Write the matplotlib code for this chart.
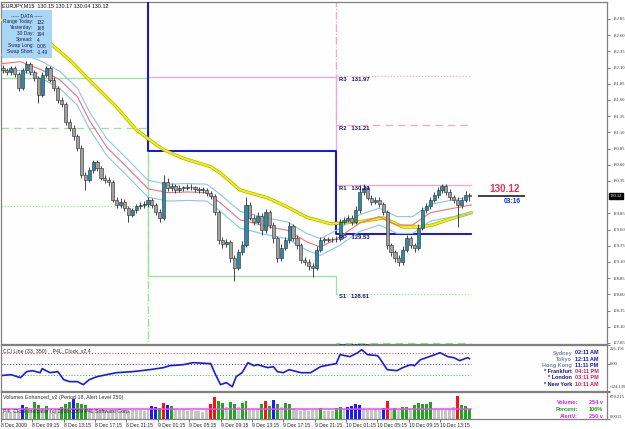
import matplotlib
matplotlib.use("Agg")
import matplotlib.pyplot as plt
import matplotlib.transforms as mtransforms
from matplotlib.patches import Rectangle

plt.rcParams['font.family'] = ['Liberation Sans', 'DejaVu Sans']

# ---------------- data ----------------
title_text = "EURJPY,M15  130.15 130.17 130.04 130.12"
first_open = 132.10
closes = [
    132.06, 132.03, 132.09, 132.00, 131.78, 132.06, 132.16, 132.03, 131.94, 131.68,
    131.99, 132.09, 131.91, 131.78, 131.60, 131.54, 131.26, 131.17, 131.04, 130.86,
    130.44, 130.37, 130.52, 130.64, 130.55, 130.40, 130.37, 130.33, 130.06, 129.98,
    130.03, 129.93, 129.83, 129.90, 129.96, 129.98, 129.99, 130.06, 129.98, 129.87,
    129.78, 130.33, 130.24, 130.27, 130.21, 130.24, 130.24, 130.26, 130.25, 130.23,
    130.21, 130.21, 130.16, 130.12, 129.87, 129.44, 129.38, 129.41, 129.16, 129.01,
    129.25, 129.36, 129.98, 129.78, 129.72, 129.81, 129.59, 129.87, 129.67, 129.47,
    129.16, 129.32, 129.44, 129.66, 129.47, 129.36, 129.13, 129.10, 129.04, 129.01,
    129.29, 129.44, 129.44, 129.46, 129.45, 129.46, 129.72, 129.75, 129.78, 129.72,
    129.90, 130.18, 130.24, 130.09, 130.03, 130.06, 129.99, 129.87, 129.36, 129.25,
    129.16, 129.10, 129.29, 129.47, 129.36, 129.32, 129.63, 129.90, 129.96, 130.06,
    130.13, 130.21, 130.27, 130.18, 130.10, 130.06, 129.98, 130.06, 130.13, 130.12]
highs = [
    132.14, 132.10, 132.13, 132.12, 132.03, 132.10, 132.20, 132.19, 132.07, 131.97,
    132.03, 132.13, 132.12, 131.95, 131.82, 131.64, 131.57, 131.30, 131.21, 131.08,
    130.90, 130.49, 130.56, 130.68, 130.67, 130.58, 130.44, 130.41, 130.36, 130.10,
    130.08, 130.07, 129.97, 129.94, 130.00, 130.03, 130.04, 130.10, 130.09, 130.01,
    129.91, 130.44, 130.40, 130.32, 130.31, 130.29, 130.28, 130.31, 130.30, 130.28,
    130.26, 130.25, 130.24, 130.19, 130.15, 129.90, 129.49, 129.46, 129.44, 129.20,
    129.30, 129.42, 130.10, 130.02, 129.83, 129.87, 129.85, 129.92, 129.90, 129.71,
    129.50, 129.37, 129.49, 129.71, 129.69, 129.51, 129.40, 129.17, 129.14, 129.08,
    129.34, 129.48, 129.48, 129.49, 129.49, 129.50, 129.76, 129.80, 129.83, 129.82,
    129.96, 130.29, 130.30, 130.28, 130.13, 130.10, 130.10, 130.02, 129.90, 129.40,
    129.29, 129.20, 129.34, 129.52, 129.50, 129.40, 129.68, 129.95, 130.01, 130.11,
    130.18, 130.26, 130.31, 130.30, 130.22, 130.14, 130.10, 130.10, 130.20, 130.17]
lows = [
    132.01, 131.98, 131.99, 131.95, 131.74, 131.76, 132.02, 131.99, 131.89, 131.55,
    131.64, 131.95, 131.87, 131.74, 131.56, 131.49, 131.22, 131.12, 130.98, 130.82,
    130.40, 130.21, 130.33, 130.48, 130.50, 130.36, 130.32, 130.28, 130.02, 129.93,
    129.94, 129.88, 129.72, 129.79, 129.86, 129.92, 129.94, 129.95, 129.93, 129.82,
    129.72, 129.75, 130.20, 130.19, 130.16, 130.18, 130.19, 130.21, 130.21, 130.18,
    130.17, 130.16, 130.12, 130.07, 129.82, 129.38, 129.32, 129.33, 129.10, 128.80,
    128.97, 129.21, 129.33, 129.74, 129.67, 129.68, 129.52, 129.55, 129.62, 129.40,
    129.10, 129.12, 129.28, 129.40, 129.42, 129.30, 129.08, 129.05, 128.98, 128.87,
    128.97, 129.25, 129.40, 129.41, 129.41, 129.41, 129.43, 129.68, 129.71, 129.67,
    129.68, 129.86, 130.14, 130.05, 129.98, 129.99, 129.95, 129.82, 129.30, 129.19,
    129.10, 129.04, 129.06, 129.25, 129.31, 129.26, 129.28, 129.59, 129.86, 129.92,
    130.02, 130.09, 130.17, 130.13, 130.05, 130.01, 129.64, 129.93, 130.02, 130.04]

# slow moving average (yellow) and middle MA with envelopes
ma_slow_bars = [0, 26, 35, 45, 59, 69, 76, 83, 93, 107, 112, 122, 136, 146, 156,
                168, 183, 195, 205, 214, 220, 231, 240]
ma_slow = [132.84, 132.45, 132.22, 131.91, 131.49, 131.14, 130.98, 130.83, 130.70,
           130.57, 130.47, 130.21, 130.09, 129.95, 129.79, 129.69, 129.72, 129.78,
           129.64, 129.64, 129.67, 129.78, 129.86]
ma_mid_bars = [0, 10, 21, 30, 39, 45, 54, 64, 75, 85, 95, 105, 112, 122, 129, 137,
               146, 156, 163, 173, 183, 193, 202, 210, 219, 231, 240]
ma_mid = [132.16, 132.19, 132.06, 131.91, 131.65, 131.29, 130.87, 130.57, 130.23,
          130.17, 130.18, 130.17, 130.01, 129.75, 129.70, 129.64, 129.59, 129.41,
          129.33, 129.49, 129.70, 129.80, 129.67, 129.67, 129.86, 129.93, 129.98]
envelope_pct = 0.1

# daily pivots (days start at these bars)
pivot_day_start = [0, 75, 171]
last_bar = 240
pivot_pp = [133.15, 130.81, 129.53]
pivot_r1 = [133.92, 131.96, 130.29]
pivot_r2 = [135.13, 133.89, 131.21]
pivot_r3 = [135.90, 135.04, 131.97]
pivot_s1 = [131.94, 128.88, 128.61]
pivot_s2 = [131.17, 127.73, 127.85]
pivot_s3 = [129.96, 125.80, 126.93]

price_ticks = [132.85, 132.60, 132.35, 132.10, 131.85, 131.60, 131.35, 131.10,
               130.85, 130.60, 130.35, 129.85, 129.60, 129.35, 129.10,
               128.85, 128.60, 128.35, 128.10, 127.85]
last_price = 130.12
time_left = "03:16"

data_labels = ["Range Today:", "Yesterday:", "30 Day:", "Spread:", "Swap Long:", "Swap Short:"]
data_values = ["132", "168", "194", "4", "0.08", "-1.49"]

# CCI
cci_bars = [0, 5, 10, 13, 16, 20, 21, 25, 29, 32, 35, 39, 42, 45, 49, 54, 59, 67, 76, 83,
            86, 93, 98, 107, 109, 112, 115, 118, 120, 123, 126, 129, 131, 136, 139, 141,
            144, 147, 153, 158, 163, 168, 171, 173, 178, 182, 184, 187, 192, 193, 197,
            202, 205, 209, 211, 214, 217, 220, 224, 228, 231, 234, 238, 239]
cci_vals = [-142, -130, -166, -95, -83, -107, -59, -107, -95, -190,
            -213, -213, -249, -190, -154, -130, -107, -95, -71, -47,
            -24, -12, 12, 0, -107, -249, -225, -273, -154, -107,
            12, -24, -12, -47, -36, -95, -107, -71, -107, -107,
            -36, -12, 0, 107, 83, 130, 166, 107, 95, 71,
            -71, -83, -47, -12, -24, 47, 71, 95, 130, 83,
            71, 36, 71, 59]
cci_levels = [130, 0, -140]
cci_max, cci_min = 221.191, -324.139

clock_cities = ["Sydney", "Tokyo", "Hong Kong", "* Frankfurt", "* London", "* New York"]
clock_times = ["02:11 AM", "12:11 AM", "11:11 PM", "04:11 PM", "03:11 PM", "10:11 AM"]

# volumes (per 30-min candle) and colour class
volumes = [
    170, 180, 150, 200, 190, 350, 300, 250, 420, 350,
    280, 320, 230, 210, 250, 300, 380, 420, 500, 400,
    380, 350, 250, 240, 220, 260, 230, 210, 220, 240,
    200, 230, 210, 220, 220, 230, 210, 220, 320, 300,
    280, 400, 350, 330, 240, 220, 250, 200, 230, 190,
    200, 180, 220, 380, 550, 450, 400, 300, 420, 380,
    300, 400, 450, 250, 240, 260, 380, 450, 330, 480,
    380, 300, 400, 380, 280, 230, 210, 250, 200, 220,
    230, 270, 200, 210, 190, 270, 290, 220, 300, 330,
    370, 350, 250, 230, 220, 240, 220, 270, 440, 250,
    280, 220, 300, 310, 240, 350, 400, 380, 360, 420,
    260, 250, 240, 230, 250, 300, 560, 350, 320, 254]
vol_class = [
    'n', 'n', 'n', 'n', 'n', 'b', 'g', 'n', 'g', 'g',
    'n', 'g', 'n', 'n', 'n', 'g', 'g', 'g', 'b', 'g',
    'g', 'g', 'n', 'n', 'n', 'n', 'n', 'n', 'n', 'n',
    'n', 'n', 'n', 'n', 'n', 'n', 'n', 'n', 'b', 'b',
    'g', 'r', 'b', 'g', 'n', 'n', 'n', 'n', 'n', 'n',
    'n', 'n', 'n', 'r', 'r', 'g', 'g', 'n', 'g', 'g',
    'n', 'g', 'g', 'n', 'n', 'n', 'g', 'r', 'g', 'b',
    'g', 'n', 'g', 'g', 'n', 'n', 'n', 'n', 'n', 'n',
    'n', 'g', 'n', 'n', 'n', 'g', 'g', 'n', 'b', 'b',
    'b', 'b', 'n', 'n', 'n', 'n', 'n', 'b', 'r', 'n',
    'g', 'n', 'g', 'g', 'n', 'g', 'g', 'g', 'g', 'g',
    'n', 'n', 'n', 'n', 'n', 'n', 'r', 'g', 'g', 'g']
alert_level = 250
vol_max, vol_min_label = 670.215, "0.0015"
vol_info_labels = ["Volume:", "Percent:", "AlertV:"]
vol_info_values = ["254 v", "106%", "250 v"]

xtick_bars = [0, 16, 32, 48, 64, 80, 96, 112, 128, 144, 160, 176, 192, 208, 224]
xtick_labels = ["8 Dec 2009", "8 Dec 09:15", "8 Dec 13:15", "8 Dec 17:15", "8 Dec 21:15",
                "9 Dec 01:15", "9 Dec 05:15", "9 Dec 09:15", "9 Dec 13:15", "9 Dec 17:15",
                "9 Dec 21:15", "10 Dec 01:15", "10 Dec 05:15", "10 Dec 09:15", "10 Dec 13:15"]

# ---------------- layout ----------------
W, H = 625, 429
fig = plt.figure(figsize=(W / 100, H / 100), dpi=100)
fig.patch.set_facecolor('white')


def rect(l, t, r, b):
    return [l / W, 1 - b / H, (r - l) / W, (b - t) / H]


def ftext(x, y, s, **kw):
    kw.setdefault('va', 'center')
    return fig.text(x / W, 1 - y / H, s, **kw)


BG = '#fdfefd'
SPINE = '#808080'
XMAX = (607 - 1) / 1.96
TICKFS = 3.3

ax = fig.add_axes(rect(1, 2, 607, 344))
axc = fig.add_axes(rect(1, 345, 607, 391), sharex=ax)
axv = fig.add_axes(rect(1, 392, 607, 419), sharex=ax)
for a in (ax, axc, axv):
    a.set_facecolor(BG)
    for s in a.spines.values():
        s.set_color(SPINE)
        s.set_linewidth(0.9)
    a.yaxis.tick_right()
    a.tick_params(axis='y', length=2.5, width=0.6, color='#606060', pad=1.2,
                  labelsize=TICKFS, labelcolor='#303030')
ax.set_xlim(0, XMAX)
ax.set_ylim(127.834, 133.112)

# ---------------- main chart ----------------
n = len(closes)
xs = [2 * j + 1 for j in range(n)]
opens = [first_open] + closes[:-1]

# pivot lines
pk = pivot_day_start + [last_bar]
pink = '#f4a6cc'
green = '#96e496'


def step_line(levels, **kw):
    ax.step(pk, levels + [levels[-1]], where='post', **kw)


step_line(pivot_r3, color=pink, lw=0.9, ls=(0, (1, 1.5)), zorder=2)
step_line(pivot_r2, color=pink, lw=0.9, ls=(0, (6, 4)), zorder=2)
step_line(pivot_r1, color=pink, lw=0.9, zorder=2)
step_line(pivot_s3, color=green, lw=0.9, ls=(0, (1, 1.5)), zorder=2)
step_line(pivot_s2, color=green, lw=0.9, ls=(0, (6, 4)), zorder=2)
ax.step(pk[:3], pivot_s1[:2] + [pivot_s1[2]], where='post', color=green, lw=0.9, zorder=2)
ax.plot([pk[2], pk[3]], [pivot_s1[2], pivot_s1[2]], color=green, lw=0.9,
        ls=(0, (1, 1.5)), zorder=2)
step_line(pivot_pp, color='#0000ee', lw=1.3, zorder=3)

lvl_names = ["R3", "R2", "R1", "PP", "S1", "S2"]
lvl_vals = [pivot_r3[2], pivot_r2[2], pivot_r1[2], pivot_pp[2], pivot_s1[2], pivot_s2[2]]
for nm, v in zip(lvl_names, lvl_vals):
    ax.text(pivot_day_start[2] + 1.5, v - 0.012, f"{nm}   {v:.2f}", fontsize=4.2,
            fontweight='bold', color='#1c1c66', va='top', ha='left', zorder=6)

# moving averages
ax.plot(ma_slow_bars, ma_slow, color='#a8a000', lw=2.3, zorder=4, solid_capstyle='round')
ax.plot(ma_slow_bars, ma_slow, color='#f2f200', lw=1.5, zorder=4)
up = [v * (1 + envelope_pct / 100) for v in ma_mid]
dn = [v * (1 - envelope_pct / 100) for v in ma_mid]
ax.plot(ma_mid_bars, up, color='#8cc4f0', lw=0.8, zorder=4)
ax.plot(ma_mid_bars, dn, color='#8cc4f0', lw=0.8, zorder=4)
ax.plot(ma_mid_bars, ma_mid, color='#f07080', lw=0.8, zorder=4)

# candles
ax.vlines(xs, lows, highs, color='#383838', lw=0.65, zorder=5)
for x, o, c in zip(xs, opens, closes):
    lo, hi = min(o, c), max(o, c)
    hgt = max(hi - lo, 0.012)
    fc = '#2d8aa6' if c >= o else '#a0a0a0'
    ax.add_patch(Rectangle((x - 0.8, lo), 1.6, hgt, facecolor=fc, edgecolor='#2a2a2a',
                           lw=0.4, zorder=5))

# price label at the right of the last bar
ax.hlines(last_price, 243.5, 267.5, color='#303030', lw=1.3, zorder=6)
ax.text(257, last_price + 0.035, f"{last_price:.2f}", color='#e8305c', fontsize=7.2,
        fontweight='bold', ha='center', va='bottom', zorder=6)
ax.text(261, last_price - 0.03, time_left, color='#1030e0', fontsize=4.8,
        fontweight='bold', ha='center', va='top', zorder=6)

# y ticks
ax.set_yticks(price_ticks)
ax.set_yticklabels([f"{t:.2f}" for t in price_ticks])
for lb in ax.get_yticklabels():
    lb.set_fontfamily('Liberation Serif')
ax.tick_params(axis='x', bottom=False, labelbottom=False)
trans = mtransforms.blended_transform_factory(ax.transAxes, ax.transData)
ax.text(1.004, last_price, f"{last_price:.2f}", transform=trans, color='white',
        fontsize=TICKFS, fontfamily='Liberation Serif', va='center', ha='left',
        bbox=dict(boxstyle='square,pad=0.2', fc='black', ec='black'), zorder=7,
        clip_on=False)

# title and DATA box
ftext(2, 6, title_text, fontsize=3.9, color='#101010', ha='left')
fig.patches.append(Rectangle((2 / W, 1 - 58 / H), 50 / W, 48 / H, transform=fig.transFigure,
                             facecolor='#a8d6f4', edgecolor='none', zorder=10))
ftext(27, 16, "----- DATA -----", fontsize=3.6, color='#1a2050', ha='center', zorder=11)
for i, (lb, vl) in enumerate(zip(data_labels, data_values)):
    y = 22 + 6 * i
    ftext(33.5, y, lb, fontsize=3.5, color='#1a2050', ha='right', zorder=11)
    ftext(37, y, vl, fontsize=3.5, color='#1a2050', ha='left', zorder=11)

# ---------------- CCI panel ----------------
axc.set_ylim(cci_min, cci_max)
lvl_cols = ['#e03030', '#3030e0', '#30c030']
for lv, col in zip(cci_levels, lvl_cols):
    axc.plot([0, last_bar], [lv, lv], color=col, lw=0.7, ls=(0, (1, 2)))
axc.plot(cci_bars, cci_vals, color='#1a1ae8', lw=1.2)
axc.set_yticks([cci_max, 0, cci_min])
axc.set_yticklabels([])
axc.tick_params(axis='x', bottom=False, labelbottom=False)
ftext(610, 349, f"{cci_max:.3f}", fontsize=TICKFS, color='#303030', ha='left',
      fontfamily='Liberation Serif')
ftext(610, 364, "0.00", fontsize=TICKFS, color='#303030', ha='left', fontfamily='Liberation Serif')
ftext(610, 387, f"{cci_min:.3f}", fontsize=TICKFS, color='#303030', ha='left',
      fontfamily='Liberation Serif')
ftext(3, 352, "CCI Line (33, 350)    P4L_Clock_v2.4", fontsize=3.8, color='#303030', ha='left')
for i, (cty, tm) in enumerate(zip(clock_cities, clock_times)):
    y = 353 + 6.2 * i
    late = cty.startswith('*')
    ftext(572, y, cty, fontsize=4.0, fontweight='bold', ha='right',
          color='#1a1a80' if late else '#7a88a8')
    ftext(575, y, tm, fontsize=4.0, fontweight='bold', ha='left',
          color='#e0204c' if late else '#1414e0')

# ---------------- volume panel ----------------
axv.set_ylim(0, vol_max)
cmap = {'n': '#c4c4c4', 'g': '#1ea81e', 'b': '#1a1aff', 'r': '#ff1010'}
axv.bar(xs, volumes, width=1.5, color=[cmap[c] for c in vol_class], lw=0)
axv.plot([0, last_bar], [alert_level, alert_level], color='#ff40ff', lw=1.1)
axv.set_yticks([vol_max, 0])
axv.set_yticklabels([])
ftext(610, 397, f"{vol_max:.3f}", fontsize=TICKFS, color='#303030', ha='left',
      fontfamily='Liberation Serif')
ftext(610, 417, vol_min_label, fontsize=TICKFS, color='#303030', ha='left',
      fontfamily='Liberation Serif')
ftext(3, 397, "Volumes Enhanced_v2 (Period 18, Alert Level 250)", fontsize=3.8,
      color='#303030', ha='left')
ftext(3, 411, "P4L Clock indicator (c) 2006-2009 P4L Software Corp.", fontsize=3.8,
      color='#303030', ha='left')
vcols = ['#e020e0', '#20a020', '#e020e0']
for i, (lb, vl) in enumerate(zip(vol_info_labels, vol_info_values)):
    y = 403 + 6.5 * i
    ftext(578, y, lb, fontsize=4.0, fontweight='bold', ha='right', color=vcols[i])
    ftext(603, y, vl, fontsize=4.0, fontweight='bold', ha='right', color=vcols[i])

axv.set_xticks(xtick_bars)
axv.set_xticklabels(xtick_labels)
axv.tick_params(axis='x', length=2, width=0.6, color='#606060', pad=1, labelsize=3.6,
                labelcolor='#202020')
for lb in axv.get_xticklabels():
    lb.set_horizontalalignment('left')

fig.savefig("out.png", dpi=100, facecolor='white')
